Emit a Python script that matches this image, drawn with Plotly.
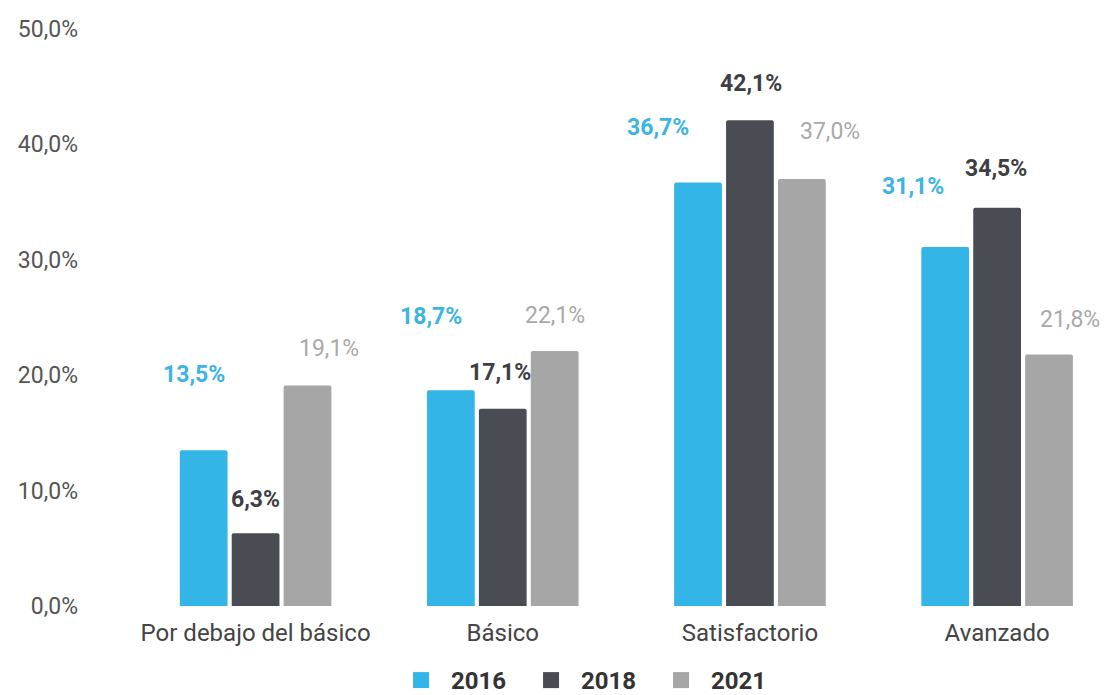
import plotly.graph_objects as go

categories = ["Por debajo del básico", "Básico", "Satisfactorio", "Avanzado"]
years = ["2016", "2018", "2021"]
v2016 = [13.5, 18.7, 36.7, 31.1]
v2018 = [6.3, 17.1, 42.1, 34.5]
v2021 = [19.1, 22.1, 37.0, 21.8]
series = [v2016, v2018, v2021]

bar_colors = ["#33b5e8", "#4a4c54", "#a6a6a6"]
label_colors = ["#3cb4e4", "#3d3f45", "#a9a9a9"]
label_weights = ["bold", "bold", "normal"]

# label offsets (pixels) relative to bar top-centre
dx = [[-9, -19, -39, -31], [0, -3, 1, -1], [20, -1, 27, 20]]
dy = [[76, 74, 55, 61], [34, 36, 37, 39], [37, 35, 48, 35]]
group_shift = [-53, 0, 53]

fig = go.Figure()
for i, (yr, vals) in enumerate(zip(years, series)):
    fig.add_trace(go.Bar(
        x=categories, y=vals, name=yr, showlegend=False,
        marker=dict(color=bar_colors[i], cornerradius=2, line=dict(width=0)),
    ))
    for j, (c, v) in enumerate(zip(categories, vals)):
        fig.add_annotation(
            x=c, y=v, xref="x", yref="y",
            text=f"{v:.1f}%".replace(".", ","),
            showarrow=False,
            xshift=group_shift[i] + dx[i][j], yshift=dy[i][j],
            font=dict(family="Roboto", size=23, color=label_colors[i], weight=label_weights[i]),
        )

# legend entries with square swatches
for i, yr in enumerate(years):
    fig.add_trace(go.Scatter(
        x=[None], y=[None], mode="markers", name=yr,
        marker=dict(symbol="square", size=25, color=bar_colors[i]),
    ))

fig.update_layout(
    width=1109, height=695,
    margin=dict(l=124, r=0, t=21, b=96),
    plot_bgcolor="white", paper_bgcolor="white",
    barmode="group", bargap=0.37, bargroupgap=0.08,
    font=dict(family="Roboto", color="#444"),
    showlegend=True,
    legend=dict(
        orientation="h", x=0.263, xanchor="left", y=-0.13, yanchor="middle",
        font=dict(family="Roboto", size=24, color="#333", weight="bold"),
        entrywidth=65, entrywidthmode="pixels", itemsizing="trace", itemwidth=50,
    ),
)
fig.update_xaxes(
    range=[-0.5, 3.485], showgrid=False, showline=False, ticks="", automargin=False,
    ticklabelstandoff=10,
    tickfont=dict(family="Roboto", size=24, color="#444"),
)
fig.update_yaxes(
    range=[0, 50], tickvals=[0, 10, 20, 30, 40, 50],
    ticktext=["0,0%", "10,0%", "20,0%", "30,0%", "40,0%", "50,0%"],
    showgrid=False, zeroline=False, showline=False, ticks="", automargin=False,
    ticklabelstandoff=53,
    tickfont=dict(family="Roboto", size=23, color="#555"),
)

fig.write_html("out.html")
